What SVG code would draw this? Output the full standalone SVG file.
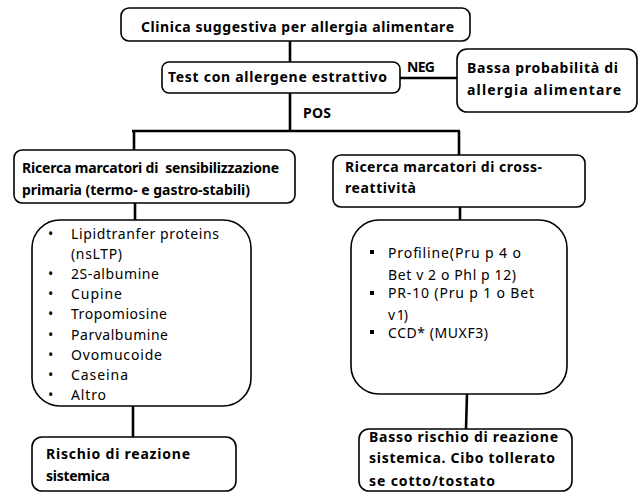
<svg xmlns="http://www.w3.org/2000/svg" width="638" height="492" viewBox="0 0 638 492">
<style>
.box{fill:#fff;stroke:#000;stroke-width:1.6}
.con{fill:none;stroke:#000;stroke-width:2.6}
.h{font-family:"Noto Sans","Liberation Sans",sans-serif;font-weight:bold;font-size:14px;fill:#000;white-space:pre}
.l{font-family:"Noto Sans","Liberation Sans",sans-serif;font-size:14px;fill:#000;white-space:pre}
</style>
<rect width="638" height="492" fill="#fff"/>
<g id="connectors">
<path class="con" d="M290 41V62M290 93V131M400 78H457M132 131H460M134 131V150M459 131V155M135 203V220M460 207V220M133 406V437M467 394L466 429"/>
<text class="h" x="407" y="72" textLength="28" lengthAdjust="spacing">NEG</text>
<text class="h" x="303" y="118" textLength="28" lengthAdjust="spacing">POS</text>
</g>
<g id="n1"><rect class="box" x="121" y="8" width="349" height="33" rx="8"/><text class="h" x="141" y="32" textLength="313" lengthAdjust="spacing">Clinica suggestiva per allergia alimentare</text></g>
<g id="n2"><rect class="box" x="162" y="62" width="238" height="31" rx="7"/><text class="h" x="168" y="82" textLength="219" lengthAdjust="spacing">Test con allergene estrattivo</text></g>
<g id="n3"><rect class="box" x="457" y="49" width="180" height="63" rx="10"/><text class="h" x="467" y="73" textLength="151" lengthAdjust="spacing">Bassa probabilità di</text><text class="h" x="467" y="95" textLength="154" lengthAdjust="spacing">allergia alimentare</text></g>
<g id="n4"><rect class="box" x="14" y="150" width="281" height="53" rx="8"/><text class="h" x="22" y="173" textLength="257" lengthAdjust="spacing">Ricerca marcatori di  sensibilizzazione</text><text class="h" x="22" y="195" textLength="228" lengthAdjust="spacing">primaria (termo- e gastro-stabili)</text></g>
<g id="n5"><rect class="box" x="333" y="155" width="252" height="52" rx="8"/><text class="h" x="345" y="172" textLength="197" lengthAdjust="spacing">Ricerca marcatori di cross-</text><text class="h" x="345" y="193" textLength="71" lengthAdjust="spacing">reattività</text></g>
<g id="n6"><rect class="box" x="32" y="220" width="219" height="186" rx="28"/>
<g class="l">
<text x="48" y="239">•</text><text x="71" y="239" textLength="148" lengthAdjust="spacing">Lipidtranfer proteins</text>
<text x="71" y="259" textLength="51" lengthAdjust="spacing">(nsLTP)</text>
<text x="48" y="279">•</text><text x="71" y="279" textLength="88" lengthAdjust="spacing">2S-albumine</text>
<text x="48" y="299">•</text><text x="71" y="299" textLength="51" lengthAdjust="spacing">Cupine</text>
<text x="48" y="319">•</text><text x="71" y="319" textLength="96" lengthAdjust="spacing">Tropomiosine</text>
<text x="48" y="340">•</text><text x="71" y="340" textLength="97" lengthAdjust="spacing">Parvalbumine</text>
<text x="48" y="360">•</text><text x="71" y="360" textLength="91" lengthAdjust="spacing">Ovomucoide</text>
<text x="48" y="380">•</text><text x="71" y="380" textLength="57" lengthAdjust="spacing">Caseina</text>
<text x="48" y="400">•</text><text x="71" y="400" textLength="35" lengthAdjust="spacing">Altro</text>
</g></g>
<g id="n7"><rect class="box" x="32" y="437" width="204" height="54" rx="10"/><text class="h" x="46" y="459" textLength="144" lengthAdjust="spacing">Rischio di reazione</text><text class="h" x="46" y="481" textLength="64" lengthAdjust="spacing">sistemica</text></g>
<g id="n8"><rect class="box" x="351" y="220" width="216" height="174" rx="28"/>
<g class="l">
<rect x="370" y="250" width="4" height="4" fill="#000"/><text x="388" y="258" textLength="133" lengthAdjust="spacing">Profiline(Pru p 4 o</text>
<text x="388" y="280" textLength="128" lengthAdjust="spacing">Bet v 2 o Phl p 12)</text>
<rect x="370" y="291" width="4" height="4" fill="#000"/><text x="388" y="298" textLength="146" lengthAdjust="spacing">PR-10  (Pru p 1 o Bet</text>
<text x="388" y="320" textLength="20" lengthAdjust="spacing">v 1)</text>
<rect x="370" y="330" width="4" height="4" fill="#000"/><text x="388" y="338" textLength="100" lengthAdjust="spacing">CCD* (MUXF3)</text>
</g></g>
<g id="n9"><rect class="box" x="359" y="429" width="213" height="62" rx="10"/><text class="h" x="369" y="442" textLength="189" lengthAdjust="spacing">Basso rischio di reazione</text><text class="h" x="369" y="463" textLength="186" lengthAdjust="spacing">sistemica. Cibo tollerato</text><text class="h" x="369" y="486" textLength="126" lengthAdjust="spacing">se cotto/tostato</text></g>
</svg>
